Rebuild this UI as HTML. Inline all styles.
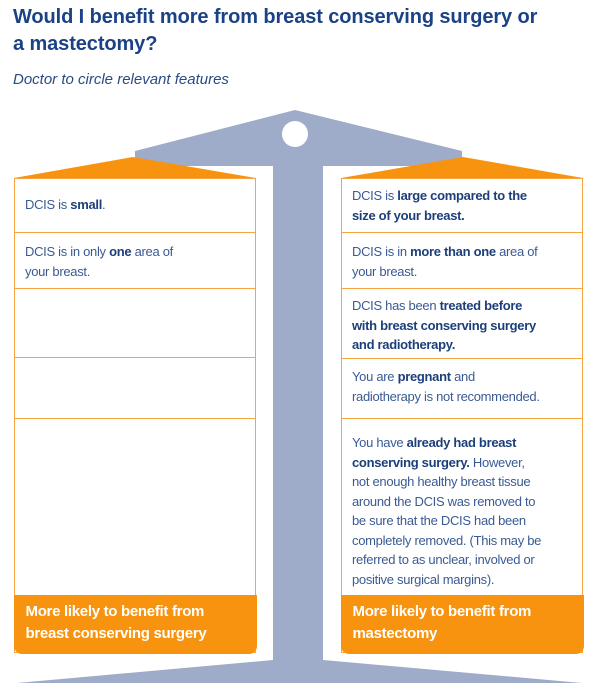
<!DOCTYPE html>
<html><head><meta charset="utf-8"><style>
body{margin:0;width:600px;height:694px;background:#fff;position:relative;overflow:hidden;font-family:"Liberation Sans",sans-serif;}
.t{position:absolute;color:#1c4587;}
.box{position:absolute;border:1.5px solid #f7a543;border-top:none;box-sizing:border-box;background:#fff;}
.row{position:absolute;left:0;right:0;border-top:1.5px solid #f7a543;box-sizing:border-box;padding:9px 0 0 10px;font-size:13px;line-height:19.5px;color:#3a5a94;letter-spacing:-0.3px;white-space:nowrap}
.row b{color:#1c3f7a}
.foot{position:absolute;left:-1.5px;right:-1.5px;bottom:-1.5px;height:59px;background:#f7930f;border-radius:0 0 8px 8px;color:#fff;font-weight:bold;font-size:15px;line-height:22px;padding:6px 0 0 12px;box-sizing:border-box;letter-spacing:-0.3px}
</style></head><body>
<div class="t" style="left:13px;top:4px;font-size:20px;font-weight:bold;line-height:27px;color:#1a4285;letter-spacing:-0.1px">Would I benefit more from breast conserving surgery or<br>a mastectomy?</div>
<div class="t" style="left:13px;top:71px;font-size:15px;font-style:italic;color:#2a4a85">Doctor to circle relevant features</div>
<svg width="600" height="694" style="position:absolute;left:0;top:0">
<polygon points="295,110 462,151 462,166 135,166 135,151" fill="#9eabc9"/>
<circle cx="295" cy="134" r="13" fill="#fff"/>
<rect x="273" y="160" width="50" height="520" fill="#9eabc9"/>
<polygon points="273,660 323,660 582,683 17,683" fill="#9eabc9"/>
<polygon points="133,157 256,178 14,178" fill="#f7930f"/>
<polygon points="463,157 583,178 341,178" fill="#f7930f"/>
</svg>
<div class="box" style="left:14px;top:178px;width:242px;height:475px">
<div class="row" style="top:0;height:54px;padding-top:16px">DCIS is <b>small</b>.</div>
<div class="row" style="top:54px;height:56px">DCIS is in only <b>one</b> area of<br>your breast.</div>
<div class="row" style="top:110px;height:69px"></div>
<div class="row" style="top:179px;height:61px"></div>
<div class="row" style="top:240px;height:175px"></div>
<div class="foot">More likely to benefit from<br>breast conserving surgery</div>
</div>
<div class="box" style="left:341px;top:178px;width:242px;height:475px">
<div class="row" style="top:0;height:54px;padding-top:7px">DCIS is <b>large compared to the</b><br><b>size of your breast.</b></div>
<div class="row" style="top:54px;height:56px">DCIS is in <b>more than one</b> area of<br>your breast.</div>
<div class="row" style="top:110px;height:70px;padding-top:7px">DCIS has been <b>treated before</b><br><b>with breast conserving surgery</b><br><b>and radiotherapy.</b></div>
<div class="row" style="top:180px;height:60px;padding-top:8px">You are <b>pregnant</b> and<br>radiotherapy is not recommended.</div>
<div class="row" style="top:240px;height:175px;padding-top:14px">You have <b>already had breast</b><br><b>conserving surgery.</b> However,<br>not enough healthy breast tissue<br>around the DCIS was removed to<br>be sure that the DCIS had been<br>completely removed. (This may be<br>referred to as unclear, involved or<br>positive surgical margins).</div>
<div class="foot">More likely to benefit from<br>mastectomy</div>
</div>
</body></html>
